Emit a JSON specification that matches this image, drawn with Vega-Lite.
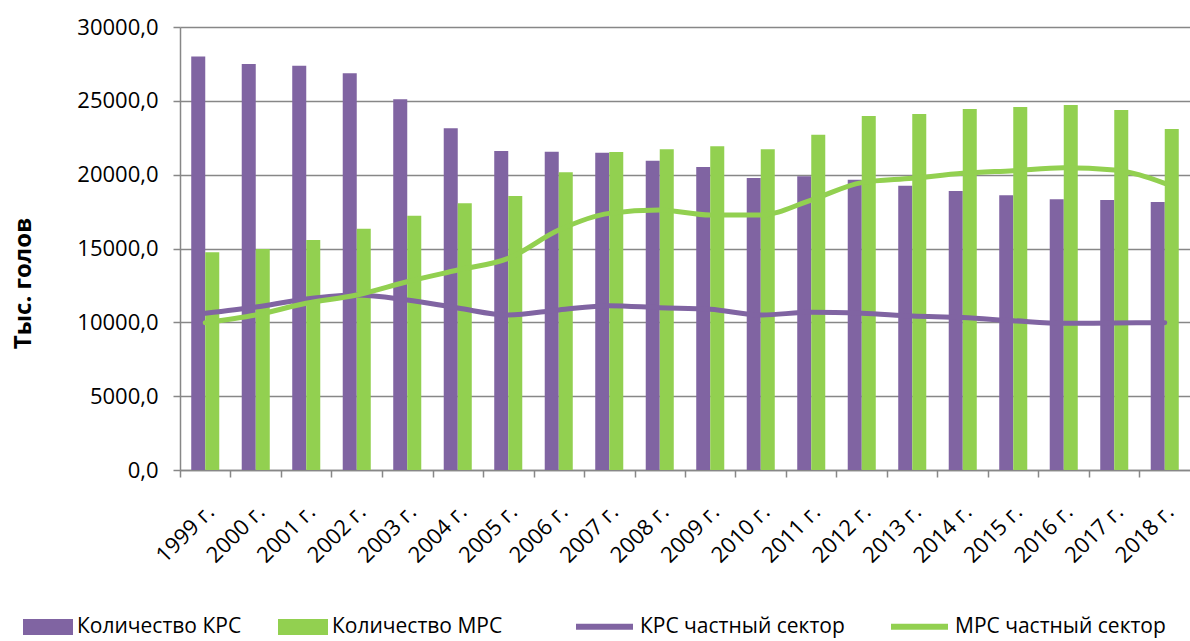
{
  "$schema": "https://vega.github.io/schema/vega-lite/v6.json",
  "width": 1010,
  "height": 443,
  "autosize": {"type": "none"},
  "padding": {"left": 180, "top": 27, "right": 0, "bottom": 171},
  "background": "white",
  "config": {
    "view": {"stroke": null},
    "font": "Open Sans",
    "axis": {"labelColor": "black", "titleColor": "black", "labelFont": "Open Sans", "titleFont": "Open Sans"},
    "legend": {"labelFont": "Open Sans", "labelColor": "black", "labelLimit": 400}
  },
  "datasets": {
    "bars": [
      {"year": "1999 г.", "series": "Количество КРС", "value": 28000},
      {"year": "1999 г.", "series": "Количество МРС", "value": 14750},
      {"year": "2000 г.", "series": "Количество КРС", "value": 27500},
      {"year": "2000 г.", "series": "Количество МРС", "value": 14970},
      {"year": "2001 г.", "series": "Количество КРС", "value": 27380},
      {"year": "2001 г.", "series": "Количество МРС", "value": 15580},
      {"year": "2002 г.", "series": "Количество КРС", "value": 26860},
      {"year": "2002 г.", "series": "Количество МРС", "value": 16340},
      {"year": "2003 г.", "series": "Количество КРС", "value": 25100},
      {"year": "2003 г.", "series": "Количество МРС", "value": 17220},
      {"year": "2004 г.", "series": "Количество КРС", "value": 23140},
      {"year": "2004 г.", "series": "Количество МРС", "value": 18060},
      {"year": "2005 г.", "series": "Количество КРС", "value": 21600},
      {"year": "2005 г.", "series": "Количество МРС", "value": 18560},
      {"year": "2006 г.", "series": "Количество КРС", "value": 21560},
      {"year": "2006 г.", "series": "Количество МРС", "value": 20160},
      {"year": "2007 г.", "series": "Количество КРС", "value": 21490},
      {"year": "2007 г.", "series": "Количество МРС", "value": 21540},
      {"year": "2008 г.", "series": "Количество КРС", "value": 20950},
      {"year": "2008 г.", "series": "Количество МРС", "value": 21720},
      {"year": "2009 г.", "series": "Количество КРС", "value": 20520},
      {"year": "2009 г.", "series": "Количество МРС", "value": 21920},
      {"year": "2010 г.", "series": "Количество КРС", "value": 19770},
      {"year": "2010 г.", "series": "Количество МРС", "value": 21720},
      {"year": "2011 г.", "series": "Количество КРС", "value": 19890},
      {"year": "2011 г.", "series": "Количество МРС", "value": 22710},
      {"year": "2012 г.", "series": "Количество КРС", "value": 19660},
      {"year": "2012 г.", "series": "Количество МРС", "value": 23970},
      {"year": "2013 г.", "series": "Количество КРС", "value": 19250},
      {"year": "2013 г.", "series": "Количество МРС", "value": 24110},
      {"year": "2014 г.", "series": "Количество КРС", "value": 18890},
      {"year": "2014 г.", "series": "Количество МРС", "value": 24450},
      {"year": "2015 г.", "series": "Количество КРС", "value": 18600},
      {"year": "2015 г.", "series": "Количество МРС", "value": 24580},
      {"year": "2016 г.", "series": "Количество КРС", "value": 18330},
      {"year": "2016 г.", "series": "Количество МРС", "value": 24720},
      {"year": "2017 г.", "series": "Количество КРС", "value": 18280},
      {"year": "2017 г.", "series": "Количество МРС", "value": 24380},
      {"year": "2018 г.", "series": "Количество КРС", "value": 18150},
      {"year": "2018 г.", "series": "Количество МРС", "value": 23090}
    ],
    "lines": [
      {"year": "1999 г.", "series": "КРС частный сектор", "value": 10610},
      {"year": "2000 г.", "series": "КРС частный сектор", "value": 11040},
      {"year": "2001 г.", "series": "КРС частный сектор", "value": 11580},
      {"year": "2002 г.", "series": "КРС частный сектор", "value": 11850},
      {"year": "2003 г.", "series": "КРС частный сектор", "value": 11510},
      {"year": "2004 г.", "series": "КРС частный сектор", "value": 10970},
      {"year": "2005 г.", "series": "КРС частный сектор", "value": 10500},
      {"year": "2006 г.", "series": "КРС частный сектор", "value": 10840},
      {"year": "2007 г.", "series": "КРС частный сектор", "value": 11130},
      {"year": "2008 г.", "series": "КРС частный сектор", "value": 10990},
      {"year": "2009 г.", "series": "КРС частный сектор", "value": 10880},
      {"year": "2010 г.", "series": "КРС частный сектор", "value": 10500},
      {"year": "2011 г.", "series": "КРС частный сектор", "value": 10680},
      {"year": "2012 г.", "series": "КРС частный сектор", "value": 10610},
      {"year": "2013 г.", "series": "КРС частный сектор", "value": 10430},
      {"year": "2014 г.", "series": "КРС частный сектор", "value": 10320},
      {"year": "2015 г.", "series": "КРС частный сектор", "value": 10110},
      {"year": "2016 г.", "series": "КРС частный сектор", "value": 9930},
      {"year": "2017 г.", "series": "КРС частный сектор", "value": 9960},
      {"year": "2018 г.", "series": "КРС частный сектор", "value": 9980},
      {"year": "1999 г.", "series": "МРС частный сектор", "value": 9980},
      {"year": "2000 г.", "series": "МРС частный сектор", "value": 10500},
      {"year": "2001 г.", "series": "МРС частный сектор", "value": 11290},
      {"year": "2002 г.", "series": "МРС частный сектор", "value": 11850},
      {"year": "2003 г.", "series": "МРС частный сектор", "value": 12750},
      {"year": "2004 г.", "series": "МРС частный сектор", "value": 13540},
      {"year": "2005 г.", "series": "МРС частный сектор", "value": 14330},
      {"year": "2006 г.", "series": "МРС частный сектор", "value": 16250},
      {"year": "2007 г.", "series": "МРС частный сектор", "value": 17380},
      {"year": "2008 г.", "series": "МРС частный сектор", "value": 17610},
      {"year": "2009 г.", "series": "МРС частный сектор", "value": 17270},
      {"year": "2010 г.", "series": "МРС частный сектор", "value": 17270},
      {"year": "2011 г.", "series": "МРС частный сектор", "value": 18280},
      {"year": "2012 г.", "series": "МРС частный сектор", "value": 19460},
      {"year": "2013 г.", "series": "МРС частный сектор", "value": 19750},
      {"year": "2014 г.", "series": "МРС частный сектор", "value": 20090},
      {"year": "2015 г.", "series": "МРС частный сектор", "value": 20270},
      {"year": "2016 г.", "series": "МРС частный сектор", "value": 20470},
      {"year": "2017 г.", "series": "МРС частный сектор", "value": 20320},
      {"year": "2018 г.", "series": "МРС частный сектор", "value": 19410}
    ]
  },
  "encoding": {
    "x": {
      "field": "year", "type": "nominal", "sort": null,
      "scale": {"paddingInner": 0.445, "paddingOuter": 0.2225},
      "axis": {
        "title": null, "labelAngle": -45, "labelAlign": "right", "labelBaseline": "top",
        "labelFontSize": 22, "labelPadding": 24, "tickSize": 7, "tickOffset": -25.25, "labelOffset": 23,
        "domainColor": "#878787", "domainWidth": 1.5, "tickColor": "#878787", "tickWidth": 1.5, "grid": false
      }
    },
    "y": {
      "field": "value", "type": "quantitative",
      "scale": {"domain": [0, 30000], "nice": false},
      "axis": {
        "title": "Тыс. голов", "titleFontSize": 24, "titleFontWeight": "bold",
        "titleAngle": -90, "titleX": -157, "titleY": 256, "titleAlign": "center", "titleBaseline": "middle",
        "values": [0, 5000, 10000, 15000, 20000, 25000, 30000],
        "labelExpr": "replace(format(datum.value, '.1f'), '.', ',')",
        "labelFontSize": 22, "labelPadding": 15, "tickSize": 7,
        "domainColor": "#878787", "domainWidth": 1.5, "tickColor": "#878787", "tickWidth": 1.5,
        "grid": true, "gridColor": "#878787", "gridWidth": 1.5
      }
    }
  },
  "layer": [
    {
      "data": {"name": "bars"},
      "mark": {"type": "bar"},
      "encoding": {
        "xOffset": {"field": "series", "type": "nominal", "sort": ["Количество КРС", "Количество МРС"]},
        "fill": {
          "field": "series", "type": "nominal",
          "scale": {"domain": ["Количество КРС", "Количество МРС"], "range": ["#8064A2", "#92D050"]},
          "legend": {
            "title": null, "orient": "none", "direction": "horizontal", "legendX": -157, "legendY": 575,
            "symbolType": "M-1,-0.32H1V0.32H-1Z", "symbolSize": 2500, "symbolStrokeWidth": 0,
            "labelFontSize": 21, "labelOffset": 4, "columnPadding": 36, "symbolOpacity": 1, "labelLimit": 400
          }
        }
      }
    },
    {
      "data": {"name": "lines"},
      "mark": {"type": "line", "interpolate": "monotone", "strokeWidth": 5, "strokeCap": "round"},
      "encoding": {
        "stroke": {
          "field": "series", "type": "nominal",
          "scale": {"domain": ["КРС частный сектор", "МРС частный сектор"], "range": ["#8064A2", "#92D050"]},
          "legend": {
            "title": null, "orient": "none", "direction": "horizontal", "legendX": 393, "legendY": 568,
            "symbolType": "stroke", "symbolSize": 3249, "symbolStrokeWidth": 6,
            "labelFontSize": 21, "labelOffset": 4, "columnPadding": 34, "labelLimit": 400
          }
        }
      }
    }
  ]
}
